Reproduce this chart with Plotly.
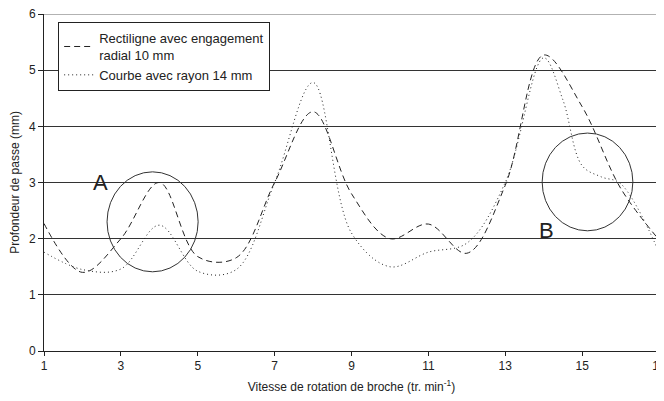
import plotly.graph_objects as go

# Data
x_vals = [1, 2, 3, 4, 5, 6, 7, 8, 9, 10, 11, 12, 13, 14, 15, 16, 17]
rectiligne = [2.27, 1.40, 2.0, 3.0, 1.68, 1.66, 3.0, 4.26, 2.8, 2.0, 2.26, 1.74, 2.95, 5.27, 4.35, 2.9, 1.98]
x_courbe = [1, 2, 3, 4, 5, 6, 7, 8, 9, 10, 11, 12, 13, 14, 14.5, 15, 15.5, 16, 17]
courbe = [1.76, 1.45, 1.46, 2.24, 1.42, 1.45, 3.0, 4.78, 2.1, 1.5, 1.76, 1.92, 3.0, 5.22, 4.47, 3.3, 3.1, 2.98, 1.76]

x_ticks = [1, 3, 5, 7, 9, 11, 13, 15, 17]
y_ticks = [0, 1, 2, 3, 4, 5, 6]

circles = {"A": (2.64, 5.01, 1.41, 3.19), "B": (13.96, 16.32, 2.14, 3.88)}
labels = {"A": (2.46, 3.0), "B": (14.07, 2.14)}

font_family = "Liberation Sans, Arial, sans-serif"

fig = go.Figure()
fig.add_trace(go.Scatter(
    x=x_vals, y=rectiligne, mode="lines",
    name="Rectiligne avec engagement<br>radial 10 mm",
    line=dict(color="#222222", width=1, dash="6px,4px", shape="spline", smoothing=1.0),
))
fig.add_trace(go.Scatter(
    x=x_courbe, y=courbe, mode="lines",
    name="Courbe avec rayon 14 mm",
    line=dict(color="#222222", width=1, dash="1px,3px", shape="spline", smoothing=1.0),
))

shapes = []
for k, (x0, x1, y0, y1) in circles.items():
    shapes.append(dict(type="circle", xref="x", yref="y", x0=x0, x1=x1, y0=y0, y1=y1,
                       line=dict(color="#333333", width=1)))
# top border (gray) and right border (light gray)
shapes.append(dict(type="line", xref="paper", yref="y", x0=0, x1=1, y0=6, y1=6,
                   line=dict(color="#999999", width=1.5)))
shapes.append(dict(type="line", xref="paper", yref="paper", x0=1.002, x1=1.002, y0=0, y1=1,
                   line=dict(color="#bbbbbb", width=2)))

annotations = []
for k, (ax, ay) in labels.items():
    annotations.append(dict(x=ax, y=ay, xref="x", yref="y", text=k, showarrow=False,
                            font=dict(size=22, color="#222222", family=font_family)))

# the page body has an 8px default margin, margins compensate for it
fig.update_layout(
    width=664, height=401,
    margin=dict(l=36, r=13, t=6, b=58),
    paper_bgcolor="white", plot_bgcolor="white",
    font=dict(family=font_family, size=12, color="#222222"),
    showlegend=True,
    legend=dict(x=0.023, y=0.976, xanchor="left", yanchor="top",
                bordercolor="#222222", borderwidth=1, bgcolor="white",
                font=dict(size=13, color="#222222"), tracegroupgap=1),
    shapes=shapes,
    annotations=annotations,
    xaxis=dict(range=[1, 17], tickvals=x_ticks, ticktext=[str(t) for t in x_ticks],
               showgrid=False, zeroline=False, showline=True, linecolor="#222222", linewidth=1,
               ticks="outside", ticklen=4, tickcolor="#222222", automargin=False,
               ticklabeloverflow="allow",
               tickfont=dict(size=12, color="#222222"),
               title=dict(text="Vitesse de rotation de broche (tr. min<sup>-1</sup>)",
                          font=dict(size=12, color="#222222"), standoff=10)),
    yaxis=dict(range=[0, 6], tickvals=y_ticks, ticktext=[str(t) for t in y_ticks],
               showgrid=True, gridcolor="#333333", gridwidth=1, zeroline=False,
               showline=True, linecolor="#222222", linewidth=1,
               ticks="outside", ticklen=5, tickcolor="#222222", automargin=False,
               ticklabeloverflow="allow",
               tickfont=dict(size=12, color="#222222"),
               title=dict(text="Profondeur de passe (mm)", font=dict(size=12, color="#222222"),
                          standoff=6)),
)

fig.write_html("out.html")
